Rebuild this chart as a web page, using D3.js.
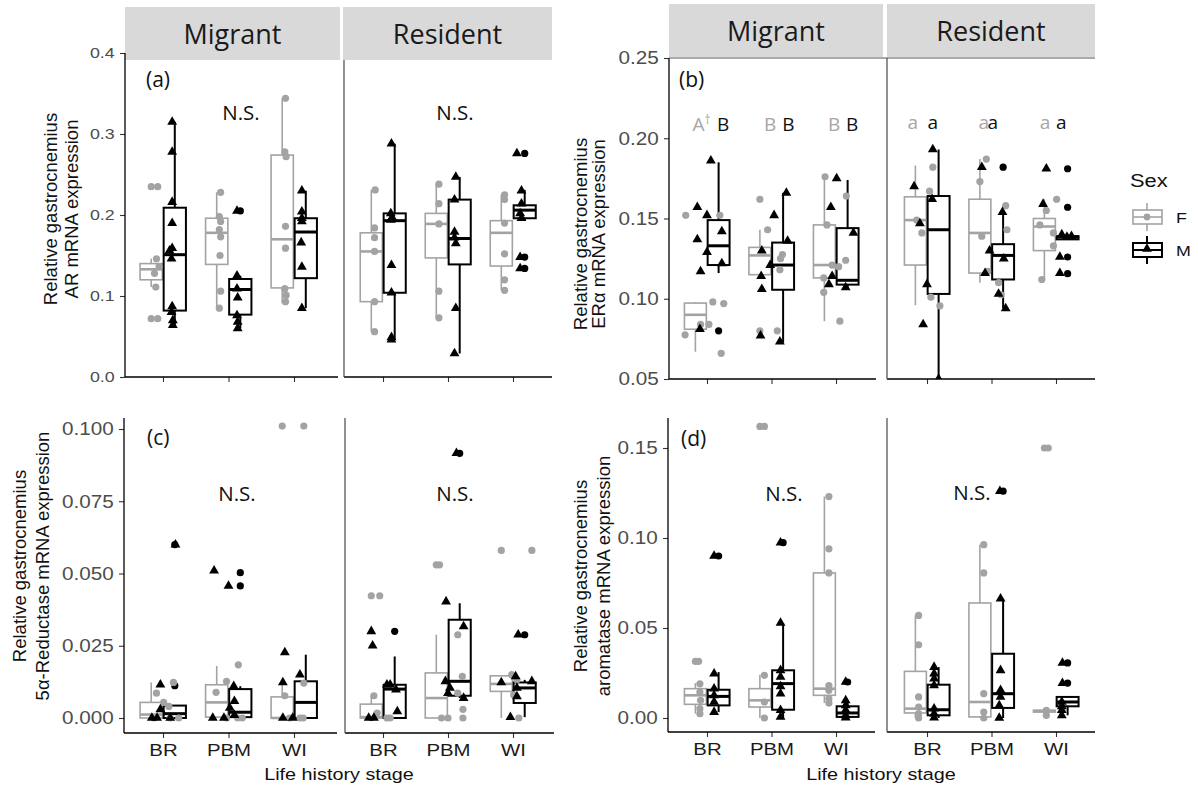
<!DOCTYPE html>
<html>
<head>
<meta charset="utf-8">
<script src="https://cdn.jsdelivr.net/npm/d3@7"></script>
<style>
  body { margin: 0; background: #fff; }
  svg { display: block; }
</style>
</head>
<body>
<div id="container"></div>
<script>
// 类别
const stages = ["BR", "PBM", "WI"];
const facets = ["Migrant", "Resident"];

// 箱线统计量：[facet, stage, sex, 下须, Q1, 中位数, Q3, 上须]
const boxA = [
  ["Migrant", "BR", "F", 0.111, 0.120, 0.133, 0.140, 0.146],
  ["Migrant", "BR", "M", 0.064, 0.082, 0.151, 0.209, 0.315],
  ["Migrant", "PBM", "F", 0.085, 0.139, 0.178, 0.196, 0.228],
  ["Migrant", "PBM", "M", 0.060, 0.077, 0.108, 0.121, 0.125],
  ["Migrant", "WI", "F", 0.091, 0.110, 0.170, 0.274, 0.344],
  ["Migrant", "WI", "M", 0.085, 0.122, 0.179, 0.196, 0.230],
  ["Resident", "BR", "F", 0.056, 0.093, 0.155, 0.178, 0.231],
  ["Resident", "BR", "M", 0.046, 0.104, 0.193, 0.202, 0.288],
  ["Resident", "PBM", "F", 0.073, 0.147, 0.189, 0.202, 0.238],
  ["Resident", "PBM", "M", 0.029, 0.139, 0.171, 0.219, 0.247],
  ["Resident", "WI", "F", 0.107, 0.137, 0.178, 0.193, 0.225],
  ["Resident", "WI", "M", 0.194, 0.196, 0.206, 0.212, 0.231]
];
// 离群点：[facet, stage, sex, [values]]
const outA = [
  ["Migrant", "BR", "F", [0.235, 0.072]],
  ["Migrant", "PBM", "M", [0.205]],
  ["Resident", "WI", "M", [0.276, 0.148, 0.134]]
];
// 抖动点：[facet, stage, sex, [[jitter, value], ...]]
const ptsA = [
  ["Migrant", "BR", "F", [[-0.08, 0.235], [-0.10, 0.146], [-0.06, 0.136], [-0.13, 0.128], [-0.11, 0.111], [-0.08, 0.072]]],
  ["Migrant", "BR", "M", [[0.14, 0.315], [0.14, 0.278], [0.14, 0.216], [0.14, 0.190], [0.14, 0.159], [0.10, 0.156], [0.13, 0.146], [0.14, 0.087], [0.13, 0.080], [0.15, 0.070], [0.15, 0.064]]],
  ["Migrant", "PBM", "F", [[-0.12, 0.228], [-0.14, 0.198], [-0.12, 0.192], [-0.14, 0.182], [-0.12, 0.173], [-0.13, 0.150], [-0.12, 0.106], [-0.14, 0.085]]],
  ["Migrant", "PBM", "M", [[0.13, 0.205], [0.13, 0.125], [0.13, 0.109], [0.14, 0.098], [0.13, 0.076], [0.14, 0.068], [0.14, 0.060]]],
  ["Migrant", "WI", "F", [[-0.13, 0.344], [-0.14, 0.278], [-0.12, 0.272], [-0.13, 0.186], [-0.13, 0.159], [-0.14, 0.109], [-0.12, 0.101], [-0.13, 0.093]]],
  ["Migrant", "WI", "M", [[0.12, 0.230], [0.12, 0.204], [0.12, 0.196], [0.12, 0.192], [0.11, 0.166], [0.12, 0.136], [0.12, 0.085]]],
  ["Resident", "BR", "F", [[-0.12, 0.231], [-0.13, 0.184], [-0.13, 0.172], [-0.13, 0.155], [-0.13, 0.093], [-0.13, 0.056]]],
  ["Resident", "BR", "M", [[0.13, 0.288], [0.12, 0.202], [0.14, 0.197], [0.12, 0.194], [0.13, 0.138], [0.13, 0.104], [0.13, 0.049], [0.13, 0.046]]],
  ["Resident", "PBM", "F", [[-0.14, 0.238], [-0.14, 0.214], [-0.14, 0.189], [-0.14, 0.106], [-0.14, 0.073]]],
  ["Resident", "PBM", "M", [[0.12, 0.247], [0.10, 0.219], [0.10, 0.179], [0.10, 0.172], [0.12, 0.165], [0.12, 0.085], [0.10, 0.029]]],
  ["Resident", "WI", "F", [[-0.13, 0.225], [-0.13, 0.219], [-0.13, 0.190], [-0.13, 0.152], [-0.13, 0.120], [-0.13, 0.107]]],
  ["Resident", "WI", "M", [[0.06, 0.276], [0.13, 0.230], [0.13, 0.214], [0.11, 0.202], [0.13, 0.196], [0.11, 0.148], [0.11, 0.134]]]
];

const boxB = [
  ["Migrant", "BR", "F", 0.067, 0.081, 0.090, 0.0973, 0.098],
  ["Migrant", "BR", "M", 0.116, 0.121, 0.133, 0.149, 0.185],
  ["Migrant", "PBM", "F", 0.115, 0.115, 0.127, 0.132, 0.143],
  ["Migrant", "PBM", "M", 0.0727, 0.1056, 0.121, 0.135, 0.166],
  ["Migrant", "WI", "F", 0.086, 0.113, 0.121, 0.146, 0.176],
  ["Migrant", "WI", "M", 0.107, 0.1088, 0.1115, 0.144, 0.174],
  ["Resident", "BR", "F", 0.096, 0.121, 0.149, 0.1635, 0.183],
  ["Resident", "BR", "M", 0.050, 0.103, 0.143, 0.164, 0.193],
  ["Resident", "PBM", "F", 0.110, 0.116, 0.141, 0.162, 0.187],
  ["Resident", "PBM", "M", 0.094, 0.112, 0.127, 0.134, 0.154],
  ["Resident", "WI", "F", 0.112, 0.130, 0.145, 0.150, 0.162],
  ["Resident", "WI", "M", 0.137, 0.137, 0.1385, 0.139, 0.140]
];
const outB = [
  ["Migrant", "BR", "M", [0.080]],
  ["Migrant", "PBM", "F", [0.162, 0.080]],
  ["Resident", "PBM", "M", [0.182]],
  ["Resident", "WI", "M", [0.181, 0.157, 0.126, 0.1156]]
];
const ptsB = [
  ["Migrant", "BR", "F", [[-0.33, 0.152], [0.20, 0.152], [0.09, 0.098], [0.26, 0.097], [-0.10, 0.084], [0.03, 0.084], [-0.34, 0.0775], [0.22, 0.066]]],
  ["Migrant", "BR", "M", [[0.06, 0.186], [-0.15, 0.157], [0, 0.152], [0.23, 0.142], [-0.15, 0.137], [0, 0.129], [0.23, 0.122], [-0.10, 0.117], [-0.11, 0.081]]],
  ["Migrant", "PBM", "F", [[-0.06, 0.143], [0.17, 0.1275], [0.14, 0.125], [0.13, 0.118], [0.09, 0.080]]],
  ["Migrant", "PBM", "M", [[0.23, 0.166], [0.04, 0.152], [0.25, 0.136], [-0.15, 0.130], [-0.02, 0.121], [-0.16, 0.114], [-0.15, 0.106], [-0.17, 0.077], [0.13, 0.0733]]],
  ["Migrant", "WI", "F", [[-0.17, 0.176], [0.16, 0.164], [-0.14, 0.146], [0.15, 0.124], [-0.06, 0.121], [0.04, 0.120], [-0.19, 0.113], [-0.19, 0.104], [0.06, 0.086]]],
  ["Migrant", "WI", "M", [[0.01, 0.175], [-0.08, 0.157], [0.27, 0.141], [-0.06, 0.114], [-0.11, 0.109], [0.15, 0.107]]],
  ["Resident", "BR", "F", [[0.09, 0.182], [0.04, 0.167], [-0.16, 0.149], [-0.08, 0.141], [0.06, 0.101], [0.20, 0.0956]]],
  ["Resident", "BR", "M", [[0.09, 0.193], [-0.20, 0.170], [0.08, 0.162], [-0.11, 0.147], [0, 0.109], [-0.06, 0.084], [0.18, 0.050]]],
  ["Resident", "PBM", "F", [[-0.08, 0.187], [-0.18, 0.173], [0.22, 0.158], [0.24, 0.143], [-0.15, 0.139], [-0.06, 0.117], [0.11, 0.110], [0.15, 0.1025]]],
  ["Resident", "PBM", "M", [[-0.15, 0.182], [0.17, 0.154], [-0.03, 0.130], [0.19, 0.125], [-0.10, 0.116], [0.11, 0.103], [0.22, 0.094]]],
  ["Resident", "WI", "F", [[0.01, 0.162], [-0.15, 0.155], [-0.25, 0.146], [-0.04, 0.141], [-0.04, 0.133], [-0.22, 0.112]]],
  ["Resident", "WI", "M", [[-0.15, 0.181], [-0.20, 0.159], [0.09, 0.140], [0.24, 0.139], [0.17, 0.1385], [0.06, 0.126], [0.06, 0.116]]]
];
// (b) 显著性字母：[facet, stage, sex, text, 偏移]
const lettersB = [
  ["Migrant", "BR", "F", "A†", -0.085], ["Migrant", "BR", "M", "B", 0.25],
  ["Migrant", "PBM", "F", "B", -0.02], ["Migrant", "PBM", "M", "B", 0.26],
  ["Migrant", "WI", "F", "B", -0.03], ["Migrant", "WI", "M", "B", 0.25],
  ["Resident", "BR", "F", "a", -0.22], ["Resident", "BR", "M", "a", 0.09],
  ["Resident", "PBM", "F", "a", -0.12], ["Resident", "PBM", "M", "a", 0.02],
  ["Resident", "WI", "F", "a", -0.17], ["Resident", "WI", "M", "a", 0.08]
];

const boxC = [
  ["Migrant", "BR", "F", 0, 0, 0.0012, 0.0054, 0.0123],
  ["Migrant", "BR", "M", 0, 0, 0.0015, 0.0043, 0.0043],
  ["Migrant", "PBM", "F", 0, 0.0003, 0.0054, 0.0115, 0.018],
  ["Migrant", "PBM", "M", 0, 0.0003, 0.002, 0.010, 0.011],
  ["Migrant", "WI", "F", 0, 0, 0, 0.0073, 0.012],
  ["Migrant", "WI", "M", 0, 0, 0.0054, 0.0127, 0.0219],
  ["Resident", "BR", "F", 0, 0, 0.0003, 0.0048, 0.0077],
  ["Resident", "BR", "M", 0, 0, 0.010, 0.0115, 0.0213],
  ["Resident", "PBM", "F", 0, 0, 0.0069, 0.0156, 0.0288],
  ["Resident", "PBM", "M", 0.0069, 0.0077, 0.0127, 0.034, 0.0397],
  ["Resident", "WI", "F", 0, 0.0092, 0.0118, 0.0146, 0.0146],
  ["Resident", "WI", "M", 0.0003, 0.0052, 0.0104, 0.0123, 0.0132]
];
const outC = [
  ["Migrant", "BR", "M", [0.060, 0.0112]],
  ["Migrant", "PBM", "M", [0.0503, 0.0457]],
  ["Migrant", "WI", "F", [0.101]],
  ["Resident", "BR", "F", [0.0423]],
  ["Resident", "BR", "M", [0.030]],
  ["Resident", "PBM", "F", [0.053]],
  ["Resident", "PBM", "M", [0.0916]],
  ["Resident", "WI", "F", [0.058]],
  ["Resident", "WI", "M", [0.0288]]
];
const ptsC = [
  ["Migrant", "BR", "F", [[-0.10, 0.0086], [0.01, 0.0054], [0.16, 0.0123], [0.09, 0.004], [0.24, 0], [-0.14, 0], [0.11, 0]]],
  ["Migrant", "BR", "M", [[0.19, 0.060], [-0.04, 0.0115], [-0.17, 0], [-0.09, 0], [0.11, 0], [-0.04, 0.003]]],
  ["Migrant", "PBM", "F", [[-0.19, 0.0089], [-0.03, 0.0127], [0.15, 0.0184], [0.14, 0], [-0.03, 0], [0.21, 0]]],
  ["Migrant", "PBM", "M", [[-0.22, 0.051], [0, 0.0457], [0.08, 0.011], [0.09, 0.0058], [0.02, 0.0035], [-0.24, 0], [-0.07, 0], [0.09, 0.001]]],
  ["Migrant", "WI", "F", [[-0.14, 0.0077], [0.15, 0.101], [0.15, 0.0121], [-0.07, 0], [0.09, 0], [0.14, 0]]],
  ["Migrant", "WI", "M", [[-0.14, 0.0227], [-0.17, 0.0123], [0.09, 0.015], [-0.17, 0], [-0.02, 0]]],
  ["Resident", "BR", "F", [[-0.05, 0.0423], [-0.09, 0.0017], [0.06, 0], [0.11, 0], [-0.14, 0.0077]]],
  ["Resident", "BR", "M", [[-0.18, 0.030], [-0.16, 0.025], [0.11, 0.0115], [0.20, 0.0098], [0.22, 0.0023], [-0.22, 0], [-0.14, 0], [0.06, 0.0115]]],
  ["Resident", "PBM", "F", [[-0.13, 0.053], [0.15, 0.0288], [0.22, 0.0144], [0.15, 0.0086], [0.23, 0.003], [-0.10, 0], [0, 0], [0.23, 0]]],
  ["Resident", "PBM", "M", [[0.13, 0.0916], [-0.03, 0.0403], [0.24, 0.0317], [-0.04, 0.0127], [0, 0.0086], [0.24, 0.0069], [0.03, 0.0104]]],
  ["Resident", "WI", "F", [[0.29, 0.058], [-0.02, 0.015], [0.06, 0.0132], [0.09, 0], [0.01, 0.008]]],
  ["Resident", "WI", "M", [[0.08, 0.0288], [-0.18, 0.0123], [0.04, 0.0144], [0.06, 0.0104], [0.06, 0.0075], [-0.04, 0.0003], [0.29, 0.0127]]]
];

const boxD = [
  ["Migrant", "BR", "F", 0.0024, 0.0076, 0.0126, 0.0163, 0.0194],
  ["Migrant", "BR", "M", 0.0033, 0.007, 0.012, 0.0157, 0.0255],
  ["Migrant", "PBM", "F", 0, 0.0061, 0.0098, 0.0163, 0.024],
  ["Migrant", "PBM", "M", 0, 0.0046, 0.0191, 0.0265, 0.0528],
  ["Migrant", "WI", "F", 0.0083, 0.0126, 0.0163, 0.0806, 0.123],
  ["Migrant", "WI", "M", 0, 0.0006, 0.0028, 0.0065, 0.0098],
  ["Resident", "BR", "F", 0, 0.0028, 0.0052, 0.0259, 0.057],
  ["Resident", "BR", "M", 0, 0.0015, 0.0046, 0.0185, 0.0283],
  ["Resident", "PBM", "F", 0, 0.0006, 0.0089, 0.0639, 0.0963],
  ["Resident", "PBM", "M", 0, 0.0056, 0.0135, 0.0357, 0.0663],
  ["Resident", "WI", "F", 0.0015, 0.0033, 0.0039, 0.0043, 0.0043],
  ["Resident", "WI", "M", 0.0015, 0.0065, 0.0089, 0.0117, 0.0117]
];
const outD = [
  ["Migrant", "BR", "F", [0.0315]],
  ["Migrant", "BR", "M", [0.090]],
  ["Migrant", "PBM", "F", [0.162]],
  ["Migrant", "PBM", "M", [0.0974]],
  ["Migrant", "WI", "M", [0.020]],
  ["Resident", "PBM", "M", [0.126]],
  ["Resident", "WI", "F", [0.15]],
  ["Resident", "WI", "M", [0.0306, 0.0194]]
];
const ptsD = [
  ["Migrant", "BR", "F", [[-0.13, 0.0315], [-0.11, 0.019], [-0.11, 0.0144], [-0.10, 0.0098], [-0.11, 0.0052], [-0.11, 0.0024]]],
  ["Migrant", "BR", "M", [[0.11, 0.090], [0.11, 0.0246], [0.11, 0.0163], [0.11, 0.0126], [0.11, 0.0089], [0.11, 0.0033]]],
  ["Migrant", "PBM", "F", [[-0.11, 0.162], [-0.11, 0.0237], [-0.11, 0.0089], [-0.11, 0]]],
  ["Migrant", "PBM", "M", [[0.14, 0.0974], [0.14, 0.0528], [0.14, 0.0265], [0.14, 0.0228], [0.14, 0.0176], [0.14, 0.0135], [0.14, 0.0043], [0.14, 0.0006]]],
  ["Migrant", "WI", "F", [[-0.11, 0.123], [-0.11, 0.094], [-0.11, 0.0806], [-0.11, 0.018], [-0.11, 0.0154], [-0.11, 0.0107], [-0.11, 0.0083]]],
  ["Migrant", "WI", "M", [[0.15, 0.020], [0.15, 0.0098], [0.15, 0.007], [0.15, 0.0043], [0.15, 0.0015], [0.15, 0.0002]]],
  ["Resident", "BR", "F", [[-0.13, 0.057], [-0.13, 0.0407], [-0.13, 0.0117], [-0.13, 0.0061], [-0.13, 0.0024], [-0.13, 0]]],
  ["Resident", "BR", "M", [[0.11, 0.0283], [0.11, 0.0246], [0.11, 0.0219], [0.11, 0.0181], [0.11, 0.0052], [0.11, 0.0024], [0.11, 0.0002]]],
  ["Resident", "PBM", "F", [[-0.12, 0.0963], [-0.12, 0.0806], [-0.12, 0.0135], [-0.12, 0.0033], [-0.12, 0]]],
  ["Resident", "PBM", "M", [[0.13, 0.126], [0.14, 0.0663], [0.14, 0.0265], [0.14, 0.0154], [0.14, 0.0117], [0.12, 0.007], [0.12, 0]]],
  ["Resident", "WI", "F", [[-0.12, 0.15], [-0.15, 0.0043], [-0.15, 0.0015]]],
  ["Resident", "WI", "M", [[0.10, 0.0306], [0.10, 0.0194], [0.09, 0.0089], [0.09, 0.0065], [0.09, 0.0043], [0.09, 0.0015]]]
];

// 样式
const GRAY = "#a3a3a3";
const INK = "#000";
const SANS = "'Liberation Sans', Arial, sans-serif";
const CAL = "'Open Sans', sans-serif";
const SX = 1.15; // ggplot 原图在水平方向被拉伸过

// 各子图布局
const panels = [
  {
    id: "a", boxes: boxA, outs: outA, pts: ptsA,
    yDomain: [0, 0.4], yRange: [377, 53], ticks: [0, 0.1, 0.2, 0.3, 0.4], fmt: ".1f", tickFont: 15.5,
    top: 53, bottom: 377, borderTop: 60, xLabels: false, strip: [7, 60],
    facets: [
      { name: "Migrant", ticks: [163, 294], x0: 125, x1: 338, s0: 125, s1: 340 },
      { name: "Resident", ticks: [383, 513], x0: 344, x1: 552, s0: 343, s1: 552 }
    ],
    yTitle: ["Relative gastrocnemius", "AR mRNA expression"], titleX: [50, 71], titleY: 209,
    tag: "(a)", tagPos: [146, 87], ns: [[241, 120], [455, 120]]
  },
  {
    id: "b", boxes: boxB, outs: outB, pts: ptsB,
    yDomain: [0.05, 0.25], yRange: [379, 58], ticks: [0.05, 0.1, 0.15, 0.2, 0.25], fmt: ".2f", tickFont: 18,
    top: 58, bottom: 379, borderTop: 58, topLine: true, xLabels: false, strip: [4, 57],
    facets: [
      { name: "Migrant", ticks: [707, 836], x0: 669, x1: 876, s0: 669, s1: 883 },
      { name: "Resident", ticks: [927, 1056], x0: 887, x1: 1095, s0: 887, s1: 1095 }
    ],
    yTitle: ["Relative gastrocnemius", "ERα mRNA expression"], titleX: [580, 598], titleY: 234,
    tag: "(b)", tagPos: [679, 87], ns: []
  },
  {
    id: "c", boxes: boxC, outs: outC, pts: ptsC,
    yDomain: [0, 0.1], yRange: [718, 429], ticks: [0, 0.025, 0.05, 0.075, 0.1], fmt: ".3f", tickFont: 18,
    top: 418, bottom: 733, borderTop: 418, xLabels: true,
    facets: [
      { name: "Migrant", ticks: [163, 294], x0: 124, x1: 337 },
      { name: "Resident", ticks: [383, 513], x0: 345, x1: 554 }
    ],
    yTitle: ["Relative gastrocnemius", "5α-Reductase mRNA expression"], titleX: [19, 42], titleY: 566,
    tag: "(c)", tagPos: [147, 445], ns: [[237, 501], [455, 501]], xTitle: [339, 780]
  },
  {
    id: "d", boxes: boxD, outs: outD, pts: ptsD,
    yDomain: [0, 0.15], yRange: [718, 448], ticks: [0, 0.05, 0.1, 0.15], fmt: ".2f", tickFont: 18,
    top: 418, bottom: 732, borderTop: 418, xLabels: true,
    facets: [
      { name: "Migrant", ticks: [707, 836], x0: 668, x1: 875 },
      { name: "Resident", ticks: [927, 1056], x0: 887, x1: 1095 }
    ],
    yTitle: ["Relative gastrocnemius", "aromatase mRNA expression"], titleX: [580, 603], titleY: 576,
    tag: "(d)", tagPos: [681, 446], ns: [[784, 501], [972, 500]], xTitle: [881, 780]
  }
];

const svg = d3.select("#container").append("svg")
  .attr("width", 1198).attr("height", 789).attr("viewBox", [0, 0, 1198, 789]);

const triangle = d3.symbol().type(d3.symbolTriangle).size(42);

function drawPanel(p) {
  const g = svg.append("g");
  const y = d3.scaleLinear().domain(p.yDomain).range(p.yRange);
  const x = {};
  p.facets.forEach(f => { x[f.name] = d3.scalePoint().domain(stages).range(f.ticks); });
  const mig = p.facets[0], res = p.facets[1];
  const boxX = (f, s, sex) => x[f](s) + (sex === "F" ? -1 : 1) * 0.18 * x[f].step();

  // 分面标题条
  if (p.strip) {
    p.facets.forEach(f => {
      g.append("rect").attr("x", f.s0).attr("y", p.strip[0])
        .attr("width", f.s1 - f.s0).attr("height", p.strip[1] - p.strip[0]).attr("fill", "#d9d9d9");
      g.append("text").attr("x", (f.s0 + f.s1) / 2).attr("y", p.strip[1] - 16)
        .attr("text-anchor", "middle").attr("font-family", CAL).attr("font-size", 27)
        .attr("fill", "#1a1a1a").text(f.name);
    });
  }

  // 纵轴
  g.append("g").attr("transform", `translate(${mig.x0},0)`)
    .call(d3.axisLeft(y).tickValues(p.ticks).tickFormat(d3.format(p.fmt)).tickSize(5).tickPadding(4))
    .call(a => a.select(".domain").remove())
    .call(a => a.selectAll(".tick line").attr("stroke", "#333").attr("stroke-width", 1.1))
    .call(a => a.selectAll(".tick text").attr("font-family", SANS).attr("font-size", p.tickFont)
      .attr("fill", "#4d4d4d").attr("transform", `scale(${SX},1)`));
  g.append("line").attr("x1", mig.x0).attr("x2", mig.x0).attr("y1", p.top).attr("y2", p.bottom)
    .attr("stroke", INK).attr("stroke-width", 1.3);

  // 横轴（每个分面）
  p.facets.forEach(f => {
    g.append("g").attr("transform", `translate(0,${p.bottom})`)
      .call(d3.axisBottom(x[f.name]).tickSize(5).tickPadding(6).tickFormat(p.xLabels ? d => d : ""))
      .call(a => a.select(".domain").remove())
      .call(a => a.selectAll(".tick line").attr("stroke", "#333").attr("stroke-width", 1.1))
      .call(a => a.selectAll(".tick text").attr("font-family", SANS).attr("font-size", 17)
        .attr("fill", "#1a1a1a").attr("transform", `scale(${SX + 0.05},1)`));
    g.append("line").attr("x1", f.x0).attr("x2", f.x1).attr("y1", p.bottom).attr("y2", p.bottom)
      .attr("stroke", INK).attr("stroke-width", 1.3);
  });
  // 右侧分面的左边框
  g.append("line").attr("x1", res.x0).attr("x2", res.x0).attr("y1", p.borderTop).attr("y2", p.bottom)
    .attr("stroke", "#555").attr("stroke-width", 1.3);
  if (p.topLine) {
    g.append("line").attr("x1", mig.x0).attr("x2", res.x1).attr("y1", p.top).attr("y2", p.top)
      .attr("stroke", "#555").attr("stroke-width", 1);
  }

  // 纵轴标题（两行）
  p.yTitle.forEach((t, i) => {
    g.append("text").attr("transform", `translate(${p.titleX[i]},${p.titleY}) rotate(-90)`)
      .attr("text-anchor", "middle").attr("dominant-baseline", "central")
      .attr("font-family", SANS).attr("font-size", 18.5).attr("fill", "#111").text(t);
  });
  if (p.xTitle) {
    g.append("text").attr("transform", `translate(${p.xTitle[0]},${p.xTitle[1]}) scale(1.2,1)`)
      .attr("text-anchor", "middle").attr("font-family", SANS).attr("font-size", 16.5)
      .attr("fill", "#111").text("Life history stage");
  }

  // 绘图区裁剪
  const clipId = "clip-" + p.id;
  svg.append("clipPath").attr("id", clipId).append("rect")
    .attr("x", mig.x0 + 1).attr("y", p.top - 14).attr("width", res.x1 - mig.x0).attr("height", p.bottom - p.top + 14);
  const plot = g.append("g").attr("clip-path", `url(#${clipId})`);

  // 箱线图
  const boxes = p.boxes.map(([f, s, sex, lo, q1, med, q3, hi]) => ({ f, s, sex, lo, q1, med, q3, hi }));
  const bw = d => 0.34 * x[d.f].step();
  const bg = plot.append("g").selectAll("g").data(boxes).join("g")
    .attr("stroke", d => d.sex === "F" ? GRAY : INK)
    .attr("stroke-width", d => d.sex === "F" ? 1.6 : 2);
  bg.append("line").attr("x1", d => boxX(d.f, d.s, d.sex)).attr("x2", d => boxX(d.f, d.s, d.sex))
    .attr("y1", d => y(d.hi)).attr("y2", d => y(d.q3));
  bg.append("line").attr("x1", d => boxX(d.f, d.s, d.sex)).attr("x2", d => boxX(d.f, d.s, d.sex))
    .attr("y1", d => y(d.q1)).attr("y2", d => y(d.lo));
  bg.append("rect").attr("x", d => boxX(d.f, d.s, d.sex) - bw(d) / 2).attr("width", bw)
    .attr("y", d => y(d.q3)).attr("height", d => Math.max(0.5, y(d.q1) - y(d.q3))).attr("fill", "#fff");
  bg.append("line").attr("x1", d => boxX(d.f, d.s, d.sex) - bw(d) / 2).attr("x2", d => boxX(d.f, d.s, d.sex) + bw(d) / 2)
    .attr("y1", d => y(d.med)).attr("y2", d => y(d.med))
    .attr("stroke-width", d => d.sex === "F" ? 2.6 : 3);

  // 离群点
  const outs = p.outs.flatMap(([f, s, sex, vals]) => vals.map(v => ({ f, s, sex, v })));
  plot.append("g").selectAll("circle").data(outs).join("circle")
    .attr("cx", d => boxX(d.f, d.s, d.sex)).attr("cy", d => y(d.v)).attr("r", 3.6)
    .attr("fill", d => d.sex === "F" ? GRAY : INK);

  // 抖动点
  const pts = p.pts.flatMap(([f, s, sex, list]) => list.map(([j, v]) => ({ f, s, sex, j, v })));
  plot.append("g").selectAll("circle").data(pts.filter(d => d.sex === "F")).join("circle")
    .attr("cx", d => x[d.f](d.s) + d.j * x[d.f].step()).attr("cy", d => y(d.v)).attr("r", 3.6)
    .attr("fill", GRAY);
  plot.append("g").selectAll("path").data(pts.filter(d => d.sex === "M")).join("path")
    .attr("transform", d => `translate(${x[d.f](d.s) + d.j * x[d.f].step()},${y(d.v)})`)
    .attr("d", triangle).attr("fill", INK);

  // 标注
  g.append("text").attr("x", p.tagPos[0]).attr("y", p.tagPos[1]).attr("font-family", CAL)
    .attr("font-size", 21).attr("fill", "#111").text(p.tag);
  p.ns.forEach(([cx, cy]) => {
    g.append("text").attr("x", cx).attr("y", cy).attr("text-anchor", "middle").attr("font-family", CAL)
      .attr("font-size", 20.5).attr("fill", "#111").text("N.S.");
  });

  return { x, y };
}

const scales = panels.map(drawPanel);

// (b) 的显著性字母
const sb = scales[1];
lettersB.forEach(([f, s, sex, t, dx]) => {
  const txt = svg.append("text")
    .attr("x", sb.x[f](s) + dx * sb.x[f].step()).attr("y", f === "Migrant" ? 131 : 129)
    .attr("text-anchor", "middle").attr("font-family", CAL).attr("font-size", 19)
    .attr("fill", sex === "F" ? "#a6a6a6" : "#111");
  if (t.length > 1) {
    txt.append("tspan").text(t[0]);
    txt.append("tspan").attr("font-size", 12).attr("dy", -7).text(t.slice(1));
  } else {
    txt.text(t);
  }
});

// 图例
const leg = svg.append("g").attr("transform", "translate(1130,0)");
leg.append("text").attr("transform", "translate(0,187) scale(1.15,1)").attr("font-family", SANS)
  .attr("font-size", 19).attr("fill", "#111").text("Sex");
[{ sex: "F", cy: 217, col: GRAY }, { sex: "M", cy: 250, col: INK }].forEach(k => {
  const kg = leg.append("g").attr("stroke", k.col).attr("stroke-width", k.sex === "F" ? 1.6 : 2);
  kg.append("line").attr("x1", 17).attr("x2", 17).attr("y1", k.cy - 14).attr("y2", k.cy + 14);
  kg.append("rect").attr("x", 3).attr("y", k.cy - 7).attr("width", 29).attr("height", 14).attr("fill", "#fff");
  kg.append("line").attr("x1", 3).attr("x2", 32).attr("y1", k.cy).attr("y2", k.cy);
  if (k.sex === "F") {
    leg.append("circle").attr("cx", 17).attr("cy", k.cy).attr("r", 3.4).attr("fill", GRAY);
  } else {
    leg.append("path").attr("transform", `translate(17,${k.cy - 1})`).attr("d", triangle).attr("fill", INK);
  }
  leg.append("text").attr("transform", `translate(46,${k.cy + 6}) scale(1.15,1)`).attr("font-family", SANS)
    .attr("font-size", 15.5).attr("fill", "#111").text(k.sex);
});
</script>
</body>
</html>
